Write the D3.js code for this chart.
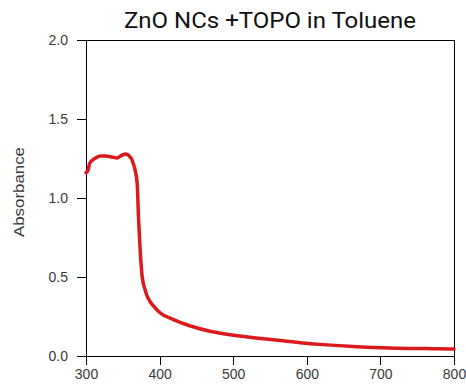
<!DOCTYPE html>
<html>
<head>
<meta charset="utf-8">
<script src="https://cdn.jsdelivr.net/npm/d3@7"></script>
<style>
  html, body { margin: 0; padding: 0; background: #fff; }
  svg { display: block; }
</style>
</head>
<body>
<svg id="chart" width="466" height="392"></svg>
<script>
// Data
const wavelength = [300, 303, 305, 312, 319, 326, 335, 342, 349, 354, 358, 364, 369.5, 371.3, 373.6, 376.3, 380.4, 383, 387, 394, 401, 418, 442, 470, 509, 554, 591, 622, 668, 713, 760, 800];
const absorbance = [1.16, 1.18, 1.22, 1.25, 1.266, 1.266, 1.26, 1.253, 1.272, 1.278, 1.27, 1.222, 1.095, 0.88, 0.67, 0.503, 0.418, 0.38, 0.345, 0.305, 0.272, 0.232, 0.19, 0.155, 0.127, 0.103, 0.084, 0.072, 0.059, 0.051, 0.047, 0.045];
const xTicks = [300, 400, 500, 600, 700, 800];
const yTicks = [0.0, 0.5, 1.0, 1.5, 2.0];
const titleText = "ZnO NCs +TOPO in Toluene";
const yLabel = "Absorbance";

const svg = d3.select("#chart");
const m = {left: 86, right: 12, top: 40, bottom: 36};
const W = 466, H = 392;
const x = d3.scaleLinear().domain([300, 800]).range([m.left, W - m.right]);
const y = d3.scaleLinear().domain([0, 2]).range([H - m.bottom, m.top]);

// frame top & right
svg.append("line").attr("x1", x(300)).attr("x2", x(800)).attr("y1", y(2)).attr("y2", y(2))
  .attr("stroke", "#000").attr("stroke-width", 1).attr("shape-rendering", "crispEdges");
svg.append("line").attr("x1", x(800)).attr("x2", x(800)).attr("y1", y(2)).attr("y2", y(0))
  .attr("stroke", "#000").attr("stroke-width", 1).attr("shape-rendering", "crispEdges");

const xAxis = svg.append("g").attr("transform", `translate(0,${y(0)})`)
  .call(d3.axisBottom(x).tickValues(xTicks).tickFormat(d3.format("d")).tickSize(9).tickSizeOuter(0).tickPadding(4));
const yAxis = svg.append("g").attr("transform", `translate(${x(300)},0)`)
  .call(d3.axisLeft(y).tickValues(yTicks).tickFormat(d3.format(".1f")).tickSize(9).tickSizeOuter(0).tickPadding(9));

[xAxis, yAxis].forEach(g => {
  g.selectAll("path, line").attr("stroke", "#000").attr("shape-rendering", "crispEdges");
  g.selectAll("text").attr("fill", "#3a3a3a").attr("font-family", "Arial, 'Liberation Sans', sans-serif").attr("font-size", 14);
});

// line
const line = d3.line().x((d, i) => x(wavelength[i])).y(d => y(d)).curve(d3.curveMonotoneX);
svg.append("path").datum(absorbance).attr("d", line)
  .attr("fill", "none").attr("stroke", "#dc1a1c").attr("stroke-width", 3.5)
  .attr("stroke-linejoin", "round").attr("stroke-linecap", "round");

// title
svg.append("text").attr("x", 270).attr("y", 28).attr("text-anchor", "middle")
  .attr("font-family", "Roboto, sans-serif").attr("font-size", 22).attr("fill", "#111")
  .attr("textLength", 292).attr("lengthAdjust", "spacingAndGlyphs")
  .text(titleText);

// y label
svg.append("text").attr("transform", `translate(24,${192}) rotate(-90)`).attr("text-anchor", "middle")
  .attr("font-family", "Arial, 'Liberation Sans', sans-serif").attr("font-size", 15).attr("fill", "#3a3a3a")
  .attr("textLength", 90).attr("lengthAdjust", "spacingAndGlyphs")
  .text(yLabel);
</script>
</body>
</html>
